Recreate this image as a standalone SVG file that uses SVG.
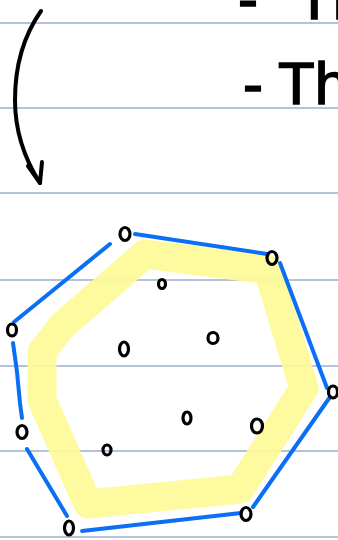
<svg xmlns="http://www.w3.org/2000/svg" width="338" height="540" viewBox="0 0 338 540">
<style>
.rule{stroke:#b3c3dc;stroke-width:2}
.ink{fill:none;stroke:#000;stroke-width:4;stroke-linecap:round;stroke-linejoin:round}
.pt{fill:none;stroke:#000;stroke-width:3.2}
.hull{fill:none;stroke:#0a6ff5;stroke-width:4;stroke-linecap:round}
.hand{font-family:"Liberation Sans",Arial,sans-serif;font-size:60px;fill:#000;stroke:#000;stroke-width:1.5}
</style>
<rect width="338" height="540" fill="#fff"/>
<g id="rules">
<line class="rule" x1="0" y1="23" x2="338" y2="23"/>
<line class="rule" x1="0" y1="108" x2="338" y2="108"/>
<line class="rule" x1="0" y1="193" x2="338" y2="193"/>
<line class="rule" x1="0" y1="280" x2="338" y2="280"/>
<line class="rule" x1="0" y1="366" x2="338" y2="366"/>
<line class="rule" x1="0" y1="451" x2="338" y2="451"/>
<line class="rule" x1="0" y1="537" x2="338" y2="537"/>
</g>
<g id="highlight">
<path d="M145,254 L268,270 L304,388 L240,489 L88,504 L42,400 L42,352 L62,326 Z" fill="none" stroke="#fdfa9a" stroke-width="29" stroke-linejoin="round" opacity="0.95"/>
</g>
<g id="text">
<text class="hand" x="238" y="19">-<tspan x="296">Th</tspan></text>
<text class="hand" x="243" y="104">-<tspan x="278">Th</tspan></text>
</g>
<g id="arrow">
<path class="ink" d="M41,11 C22,38 15,70 15,100 C15,130 24,158 40,183"/>
<path class="ink" d="M28,166 L40,183 L42,162"/>
</g>
<g id="connectors">
<line class="hull" x1="110" y1="244" x2="14" y2="322"/>
<line class="hull" x1="135" y1="234" x2="267" y2="254"/>
<line class="hull" x1="280" y1="263" x2="327" y2="388"/>
<line class="hull" x1="330" y1="397" x2="253" y2="507"/>
<line class="hull" x1="241" y1="513" x2="82" y2="531"/>
<line class="hull" x1="67" y1="516" x2="27" y2="449"/>
<path class="hull" d="M13,343 L17,372 L20,403 L22,418"/>
</g>
<g id="points">
<ellipse id="p1" class="pt" cx="125" cy="234" rx="5" ry="6.5"/>
<ellipse id="p2" class="pt" cx="272" cy="258" rx="5" ry="6.5"/>
<ellipse id="p3" class="pt" cx="12" cy="330" rx="4.5" ry="6"/>
<ellipse id="p4" class="pt" cx="162" cy="284" rx="3.5" ry="4.5"/>
<ellipse id="p5" class="pt" cx="124" cy="349" rx="4.5" ry="7"/>
<ellipse id="p6" class="pt" cx="213" cy="338" rx="5" ry="5.5"/>
<ellipse id="p7" class="pt" cx="333" cy="392" rx="4.5" ry="6"/>
<ellipse id="p8" class="pt" cx="22" cy="432" rx="5" ry="6.5"/>
<ellipse id="p9" class="pt" cx="187" cy="418" rx="4" ry="6"/>
<ellipse id="p10" class="pt" cx="257" cy="426" rx="5.5" ry="7"/>
<ellipse id="p11" class="pt" cx="107" cy="450" rx="4" ry="5"/>
<ellipse id="p12" class="pt" cx="69" cy="528" rx="4.5" ry="7"/>
<ellipse id="p13" class="pt" cx="246" cy="514" rx="5" ry="6.5"/>
</g>
</svg>
